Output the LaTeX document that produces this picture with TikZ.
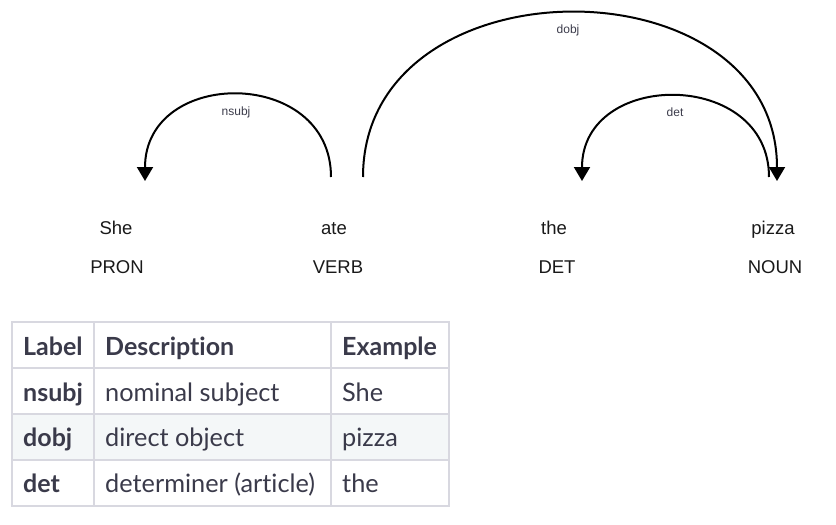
\documentclass[tikz,border=0pt]{standalone}
\usepackage{fontspec}
\setmainfont{Liberation Sans}
\newfontfamily\latofont[Ligatures=NoCommon]{Lato}
\usetikzlibrary{arrows.meta}
\definecolor{tabtext}{RGB}{58,58,74}
\definecolor{tabline}{RGB}{216,216,224}
\definecolor{rowfill}{RGB}{244,247,248}
\definecolor{wordcol}{RGB}{25,25,25}
\definecolor{labcol}{RGB}{60,60,75}
\begin{document}
\begin{tikzpicture}[x=1pt,y=-1pt,
  word/.style={font=\fontsize{18.5}{20}\selectfont, text=wordcol, inner sep=0pt, anchor=base},
  arclab/.style={font=\fontsize{12}{13}\selectfont, text=labcol, inner sep=0pt},
  deparc/.style={line width=2pt, black},
  arrowed/.style={-{Triangle[width=16pt,length=14pt]}},
  cellb/.style={font=\latofont\bfseries\fontsize{25}{28}\selectfont, text=tabtext, inner sep=0pt, anchor=base west},
  cellr/.style={font=\latofont\fontsize{25.3}{28}\selectfont, text=tabtext, inner sep=0pt, anchor=base west},
  grid/.style={draw=tabline, line width=1.5pt}]
\useasboundingbox (0,0) rectangle (836,525);
% words
\node[word] (w1) at (116,234) {She};
\node[word] (t1) at (117,273) {PRON};
\node[word] (w2) at (334,234) {ate};
\node[word] (t2) at (338,273) {VERB};
\node[word] (w3) at (554,234) {the};
\node[word] (t3) at (557,273) {DET};
\node[word] (w4) at (773,234) {pizza};
\node[word] (t4) at (775,273) {NOUN};
% arc endpoints
\coordinate (a1s) at (331,177);
\coordinate (a1e) at (145,181);
\coordinate (a2s) at (363,177);
\coordinate (a2e) at (777,181);
\coordinate (a3s) at (769,177);
\coordinate (a3e) at (582,181);
\draw[deparc,arrowed] (a1s) .. controls (331,67) and (145,67) .. (a1e);
\draw[deparc,arrowed] (a2s) .. controls (363,-42) and (777,-42) .. (a2e);
\draw[deparc,arrowed] (a3s) .. controls (769,69) and (582,69) .. (a3e);
\node[arclab] (l1) at (236,112) {nsubj};
\node[arclab] (l2) at (568,30) {dobj};
\node[arclab] (l3) at (675,112) {det};
% table
\fill[rowfill] (12,414) rectangle (449,460);
\draw[grid] (12,322) rectangle (449,506);
\draw[grid] (12,368) -- (449,368);
\draw[grid] (12,414) -- (449,414);
\draw[grid] (12,460) -- (449,460);
\draw[grid] (94,322) -- (94,506);
\draw[grid] (331,322) -- (331,506);
\node[cellb] (h1) at (23,355) {Label};
\node[cellb] (h2) at (105,355) {Description};
\node[cellb] (h3) at (342,355) {Example};
\node[cellb] (r1a) at (23,401) {nsubj};
\node[cellr] (r1b) at (105,401) {nominal subject};
\node[cellr] (r1c) at (342,401) {She};
\node[cellb] (r2a) at (23,446) {dobj};
\node[cellr] (r2b) at (105,446) {direct object};
\node[cellr] (r2c) at (342,446) {pizza};
\node[cellb] (r3a) at (23,492) {det};
\node[cellr] (r3b) at (105,492) {determiner (article)};
\node[cellr] (r3c) at (342,492) {the};
\end{tikzpicture}
\end{document}
